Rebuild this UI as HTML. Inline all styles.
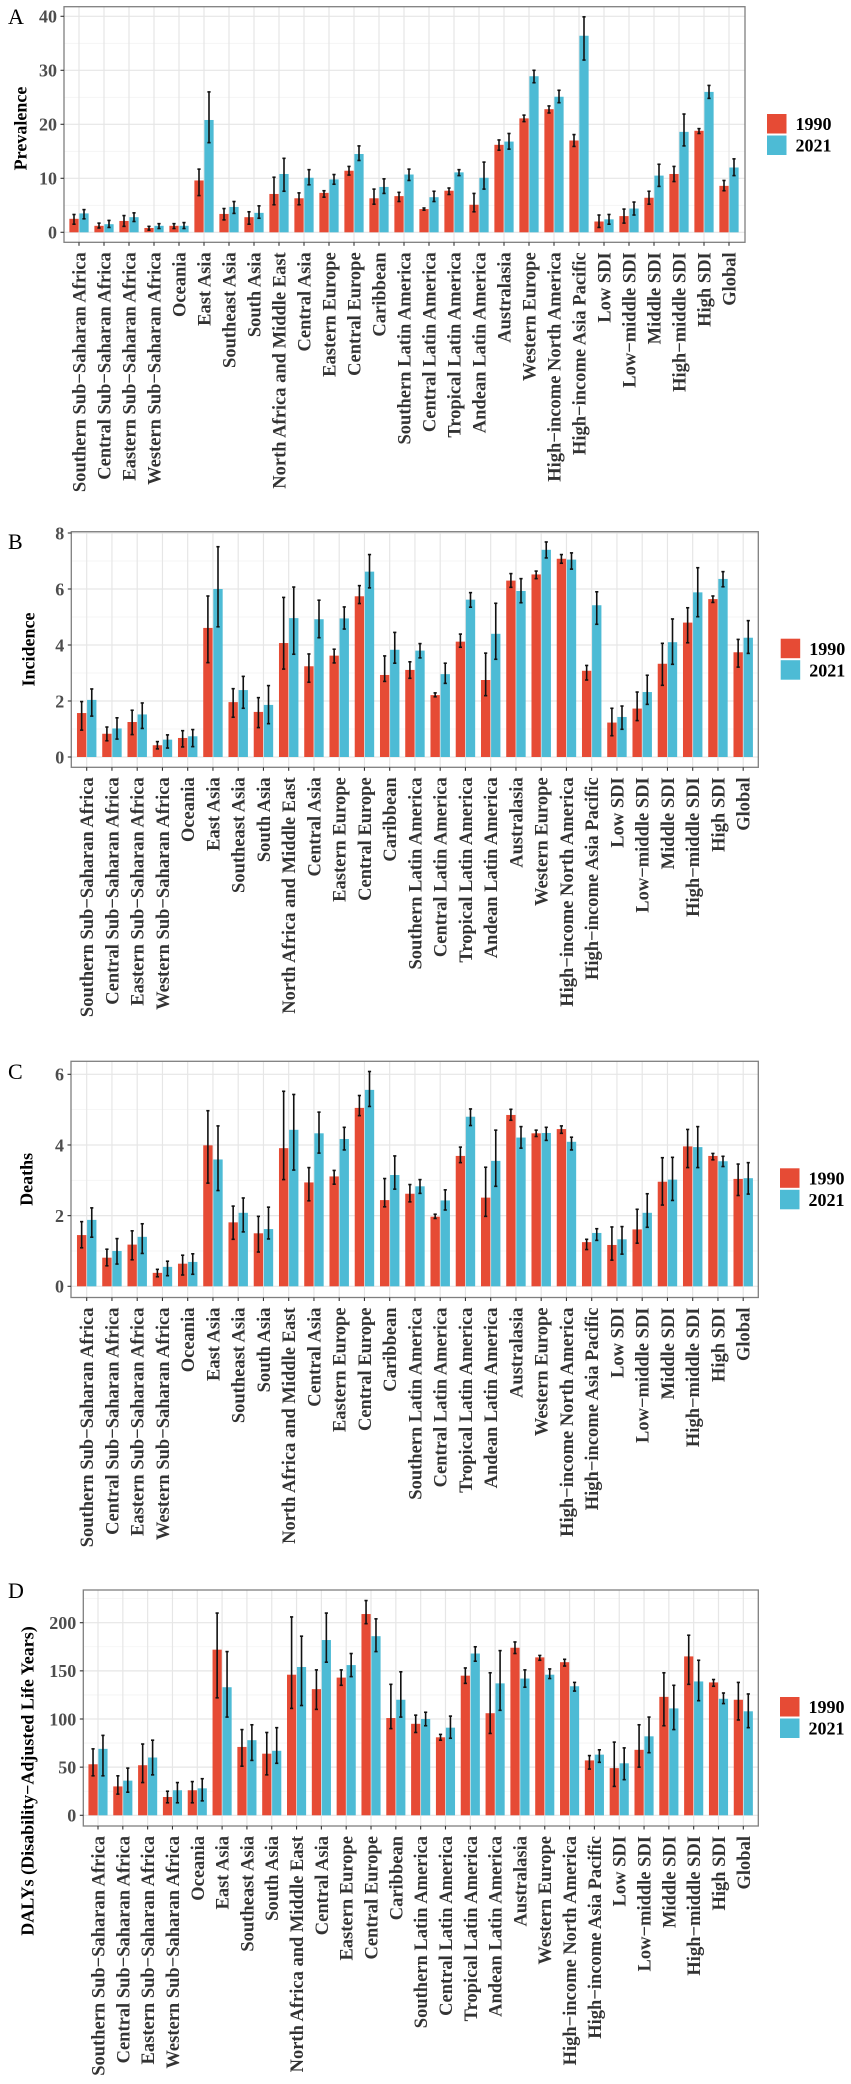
<!DOCTYPE html>
<html><head><meta charset="utf-8">
<style>
html,body{margin:0;padding:0;background:#fff;}
svg{display:block;font-family:"Liberation Serif","Times New Roman",serif;}
</style></head>
<body>
<svg id="chart" width="851" height="2084" viewBox="0 0 851 2084" xmlns="http://www.w3.org/2000/svg"></svg>
<script>
const categories = ["Southern Sub\u2212Saharan Africa","Central Sub\u2212Saharan Africa","Eastern Sub\u2212Saharan Africa","Western Sub\u2212Saharan Africa","Oceania","East Asia","Southeast Asia","South Asia","North Africa and Middle East","Central Asia","Eastern Europe","Central Europe","Caribbean","Southern Latin America","Central Latin America","Tropical Latin America","Andean Latin America","Australasia","Western Europe","High\u2212income North America","High\u2212income Asia Pacific","Low SDI","Low\u2212middle SDI","Middle SDI","High\u2212middle SDI","High SDI","Global"];
const years = ["1990","2021"];

const prev1990 = [2.5,1.2,2.1,0.8,1.2,9.6,3.4,2.8,7.1,6.3,7.3,11.4,6.3,6.7,4.3,7.7,5.1,16.2,21.1,22.8,17.0,2.0,3.0,6.4,10.8,18.8,8.6];
const prev1990Lo = [1.5,0.8,1.1,0.4,0.7,6.8,2.3,1.5,5.1,5.1,6.5,10.6,5.2,5.7,4.1,7.0,3.8,15.2,20.5,22.1,15.9,0.9,1.7,5.2,9.4,18.3,7.7];
const prev1990Hi = [3.3,1.7,3.1,1.1,1.6,11.7,4.4,3.8,10.2,7.3,7.7,12.2,8.0,7.4,4.5,8.2,7.2,17.1,21.7,23.4,18.1,3.2,4.3,7.6,12.2,19.2,9.6];
const prev2021 = [3.5,1.5,2.8,1.2,1.2,20.8,4.7,3.6,10.8,10.1,9.8,14.5,8.4,10.7,6.5,11.1,10.1,16.8,28.9,25.1,36.4,2.4,4.4,10.5,18.6,26.0,12.0];
const prev2021Lo = [2.5,0.9,2.0,0.7,0.7,16.6,3.5,2.6,7.6,8.8,8.9,13.3,7.2,9.6,5.7,10.5,8.0,15.4,27.7,24.0,31.9,1.5,3.2,8.5,16.0,24.8,10.5];
const prev2021Hi = [4.2,2.2,3.6,1.6,1.8,26.0,5.7,4.9,13.7,11.6,10.7,16.0,9.9,11.7,7.6,11.6,13.0,18.3,30.0,26.3,39.9,3.3,5.6,12.6,21.9,27.2,13.6];
const prevTicks = [0,10,20,30,40];

const inc1990 = [1.57,0.83,1.25,0.42,0.68,4.61,1.96,1.61,4.07,3.24,3.62,5.74,2.93,3.11,2.21,4.12,2.75,6.30,6.52,7.08,3.08,1.23,1.73,3.33,4.80,5.64,3.74];
const inc1990Lo = [0.96,0.58,0.80,0.29,0.36,3.37,1.42,1.05,3.14,2.67,3.36,5.48,2.70,2.81,2.15,3.92,2.19,6.06,6.37,6.92,2.75,0.76,1.30,2.56,4.08,5.52,3.21];
const inc1990Hi = [1.98,1.07,1.67,0.55,0.94,5.75,2.44,2.12,5.70,3.68,3.85,6.12,3.61,3.40,2.29,4.39,3.71,6.55,6.64,7.23,3.27,1.74,2.32,4.06,5.33,5.75,4.20];
const inc2021 = [2.04,1.02,1.52,0.62,0.74,6.00,2.39,1.86,4.96,4.92,4.95,6.62,3.83,3.80,2.96,5.62,4.40,5.93,7.40,7.05,5.42,1.43,2.32,4.10,5.88,6.36,4.26];
const inc2021Lo = [1.46,0.64,1.02,0.32,0.37,4.65,1.74,1.19,3.67,4.26,4.57,6.04,3.35,3.54,2.63,5.35,3.49,5.51,7.11,6.71,4.74,0.99,1.88,3.31,5.01,6.08,3.70];
const inc2021Hi = [2.43,1.40,1.93,0.79,0.98,7.51,2.88,2.55,6.07,5.60,5.36,7.23,4.45,4.05,3.35,5.87,5.49,6.37,7.68,7.29,5.90,1.82,2.92,4.93,6.76,6.62,4.87];
const incTicks = [0,2,4,6,8];

const death1990 = [1.45,0.81,1.18,0.38,0.64,3.99,1.81,1.50,3.91,2.94,3.11,5.05,2.44,2.62,1.97,3.69,2.51,4.85,4.33,4.45,1.25,1.17,1.61,2.96,3.96,3.69,3.04];
const death1990Lo = [1.09,0.58,0.75,0.27,0.32,2.92,1.33,0.97,3.02,2.42,2.89,4.83,2.25,2.39,1.92,3.50,1.98,4.70,4.24,4.33,1.04,0.74,1.22,2.30,3.36,3.58,2.57];
const death1990Hi = [1.83,1.05,1.57,0.48,0.88,4.97,2.27,1.98,5.52,3.36,3.28,5.40,3.05,2.88,2.04,3.94,3.37,5.01,4.42,4.54,1.33,1.68,2.18,3.64,4.44,3.76,3.46];
const death2021 = [1.88,1.00,1.40,0.55,0.69,3.59,2.08,1.62,4.43,4.33,4.17,5.56,3.15,2.83,2.43,4.80,3.55,4.21,4.34,4.09,1.51,1.33,2.08,3.02,3.94,3.54,3.06];
const death2021Lo = [1.39,0.63,0.93,0.30,0.34,2.71,1.54,1.34,3.29,3.77,3.86,5.09,2.75,2.63,2.16,4.55,2.83,3.91,4.13,3.86,1.30,0.91,1.67,2.43,3.36,3.39,2.61];
const death2021Hi = [2.22,1.35,1.77,0.71,0.92,4.54,2.50,2.24,5.43,4.93,4.50,6.08,3.69,3.02,2.73,5.02,4.42,4.52,4.50,4.22,1.63,1.69,2.62,3.65,4.52,3.68,3.50];
const deathTicks = [0,2,4,6];

const daly1990 = [53,30,52,19,26,172,71,64,146,131,143,209,101,95,81,145,106,174,164,159,57,49,68,123,165,138,120];
const daly1990Lo = [41,22,34,13,13,122,51,42,111,110,135,199,90,86,78,137,85,168,161,155,48,30,50,93,136,134,99];
const daly1990Hi = [69,41,74,25,35,210,89,86,206,151,151,223,136,104,84,153,148,180,166,162,62,76,94,148,187,141,138];
const daly2021 = [69,36,60,26,28,133,78,67,154,182,156,186,120,100,91,168,137,142,146,134,63,54,82,111,139,121,108];
const daly2021Lo = [41,24,42,13,15,102,57,54,114,159,144,170,102,93,80,160,109,133,142,129,55,37,65,89,119,116,91];
const daly2021Hi = [83,49,78,34,38,170,94,91,186,210,168,204,149,107,103,175,171,151,152,138,68,70,102,135,161,127,126];
const dalyTicks = [0,50,100,150,200];

const NS = "http://www.w3.org/2000/svg";
const svg = document.getElementById("chart");
function mk(tag, attrs, parent){
  const e = document.createElementNS(NS, tag);
  for (const k in attrs) e.setAttribute(k, attrs[k]);
  (parent||svg).appendChild(e);
  return e;
}
const RED = "#E64B35", BLUE = "#4DBBD5";

const panels = [
  {id:"prevalence", letter:"A", title:"Prevalence", s1:prev1990, l1:prev1990Lo, h1:prev1990Hi, s2:prev2021, l2:prev2021Lo, h2:prev2021Hi, ticks:prevTicks,
   left:64, right:745, top:6.7, bottom:242.3, zeroY:232.3, ppu:5.4, first:79, step:25, titleX:20, titleY:128.5, legX:767, legY:114, letterY:24},
  {id:"incidence", letter:"B", title:"Incidence", s1:inc1990, l1:inc1990Lo, h1:inc1990Hi, s2:inc2021, l2:inc2021Lo, h2:inc2021Hi, ticks:incTicks,
   left:71.3, right:758.3, top:531.7, bottom:767.3, zeroY:757, ppu:28, first:86.7, step:25.25, titleX:28, titleY:649.5, legX:780.7, legY:638.7, letterY:549},
  {id:"deaths", letter:"C", title:"Deaths", s1:death1990, l1:death1990Lo, h1:death1990Hi, s2:death2021, l2:death2021Lo, h2:death2021Hi, ticks:deathTicks,
   left:71, right:758.3, top:1061.3, bottom:1297.5, zeroY:1286.3, ppu:35.33, first:86.7, step:25.25, titleX:26, titleY:1179.4, legX:780, legY:1168.3, letterY:1079},
  {id:"dalys", letter:"D", title:"DALYs (Disability\u2212Adjusted Life Years)", s1:daly1990, l1:daly1990Lo, h1:daly1990Hi, s2:daly2021, l2:daly2021Lo, h2:daly2021Hi, ticks:dalyTicks,
   left:83.3, right:758.3, top:1590, bottom:1826, zeroY:1815.3, ppu:0.963, first:98, step:24.82, titleX:27, titleY:1781, legX:780, legY:1697, letterY:1598}
];

panels.forEach(p => {
  const g = mk("g", {});
  
  
  const y = v => p.zeroY - v * p.ppu;
  const x = i => p.first + i * p.step;

  const lt = mk("text", {x:8, y:p.letterY, "font-size":"22", fill:"#000"}, g);
  lt.textContent = p.letter;
  
  

  const grid = mk("g", {}, g);
  
  
  const tstep = p.ticks[1] - p.ticks[0];
  for (let t = p.ticks[0] - tstep/2; t <= p.ticks[p.ticks.length-1] + tstep; t += tstep/2) {
    const yy = y(t);
    if (yy < p.top || yy > p.bottom) continue;
    const major = p.ticks.indexOf(Math.round(t*1000)/1000) >= 0;
    mk("line", {x1:p.left, x2:p.right, y1:yy, y2:yy, stroke: major ? "#e6e6e6" : "#f3f3f3", "stroke-width": major ? 1.2 : 0.8}, grid);
  }
  categories.forEach((c, i) => {
    mk("line", {x1:x(i), x2:x(i), y1:p.top, y2:p.bottom, stroke:"#e6e6e6", "stroke-width":1.2}, grid);
  });

  const bw = p.step * 0.37, off = p.step * 0.2;
  const series = [[p.s1, p.l1, p.h1, RED, "1990", -off], [p.s2, p.l2, p.h2, BLUE, "2021", off]];
  categories.forEach((c, i) => {
    series.forEach(s => {
      const cx = x(i) + s[5];
      const v = s[0][i];
      const r = mk("rect", {x:cx - bw/2, y:y(v), width:bw, height:y(0) - y(v), fill:s[3]}, g);
      
      
    });
  });
  categories.forEach((c, i) => {
    series.forEach(s => {
      const cx = x(i) + s[5];
      const eg = mk("g", {stroke:"#111", "stroke-width":1.6}, g);
      
      
      mk("line", {x1:cx, x2:cx, y1:y(s[2][i]), y2:y(s[1][i])}, eg);
      mk("line", {x1:cx-1.6, x2:cx+1.6, y1:y(s[2][i]), y2:y(s[2][i])}, eg);
      mk("line", {x1:cx-1.6, x2:cx+1.6, y1:y(s[1][i]), y2:y(s[1][i])}, eg);
    });
  });

  const b = mk("rect", {x:p.left, y:p.top, width:p.right-p.left, height:p.bottom-p.top, fill:"none", stroke:"#7f7f7f", "stroke-width":1.3}, g);
  
  

  p.ticks.forEach(t => {
    mk("line", {x1:p.left-3.5, x2:p.left, y1:y(t), y2:y(t), stroke:"#333", "stroke-width":1.1}, g);
    const tl = mk("text", {x:p.left-7, y:y(t), dy:"0.35em", "text-anchor":"end", "font-size":"18", "font-weight":"bold", fill:"#4d4d4d"}, g);
    tl.textContent = t;
    
    
  });

  categories.forEach((c, i) => {
    mk("line", {x1:x(i), x2:x(i), y1:p.bottom, y2:p.bottom+3.5, stroke:"#333", "stroke-width":1.1}, g);
    const xl = mk("text", {transform:"translate(" + x(i) + "," + (p.bottom + 10) + ") rotate(-90)", dy:"0.35em", "text-anchor":"end", "font-size":"18.5", "font-weight":"bold", fill:"#333"}, g);
    xl.textContent = c;
    
    
  });

  const yt = mk("text", {transform:"translate(" + p.titleX + "," + p.titleY + ") rotate(-90)", dy:"0.35em", "text-anchor":"middle", "font-size":"18", "font-weight":"bold", fill:"#000"}, g);
  yt.textContent = p.title;
  
  

  const lg = mk("g", {}, g);
  
  
  [[RED, years[0]], [BLUE, years[1]]].forEach((e, k) => {
    const ky = p.legY + k * 21.5;
    const le = mk("g", {}, lg);
    
    
    mk("rect", {x:p.legX, y:ky, width:19.5, height:19.5, fill:e[0]}, le);
    const tx = mk("text", {x:p.legX + 28.5, y:ky + 9.75, dy:"0.35em", "font-size":"18", "font-weight":"bold", fill:"#000"}, le);
    tx.textContent = e[1];
  });
});
</script>
</body></html>
